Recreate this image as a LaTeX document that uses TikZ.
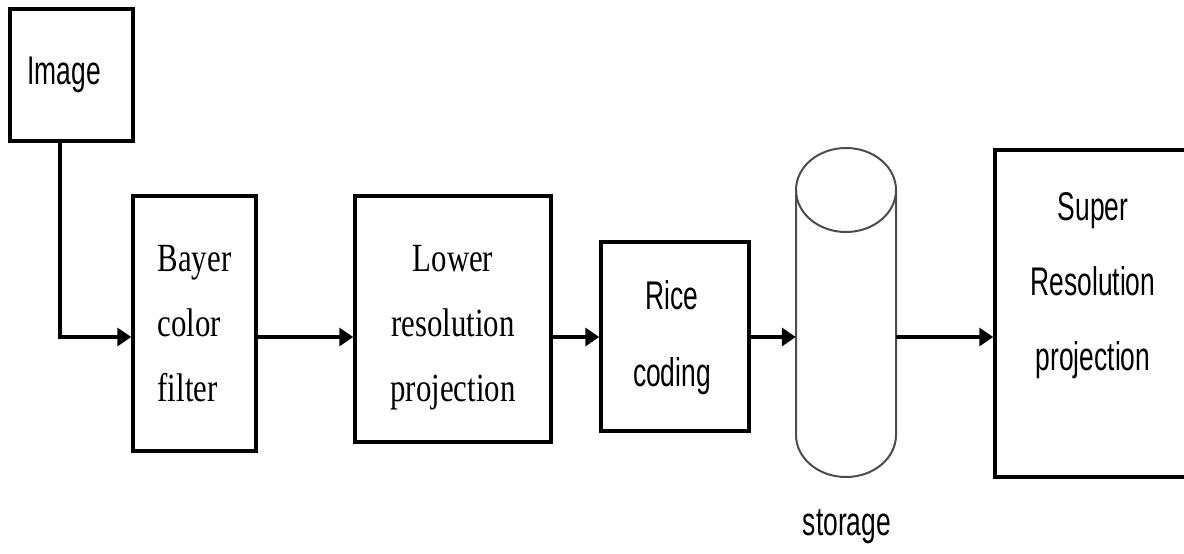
\documentclass[tikz,border=0pt]{standalone}
\usepackage{fontspec}
\setmainfont{Liberation Serif}
\newfontfamily\narrowserif[FakeStretch=0.77]{Liberation Serif}
\newfontfamily\narrowsans[FakeStretch=0.66]{Liberation Sans}
\usetikzlibrary{arrows.meta}
\begin{document}
\begin{tikzpicture}[x=1pt,y=-1pt,
  box/.style={draw=black,line width=3.5pt,inner sep=0pt,fill=white},
  arr/.style={line width=3.5pt,-{Triangle[length=14pt,width=18pt]}},
  serif/.style={font=\narrowserif\fontsize{40}{65}\selectfont},
  sans/.style={font=\narrowsans\fontsize{40}{72}\selectfont},
  cyl/.style={draw=black!70,line width=2pt}]
\clip (0,0) rectangle (1184,554);
\fill[white] (0,0) rectangle (1184,554);
\coordinate (ay) at (0,337);
% boxes
\node[box,minimum width=123pt,minimum height=132pt] (img) at (71.5,75) {};
\node[sans] (imgt) at (64,75) {Image};
\node[box,minimum width=123pt,minimum height=255pt,serif,align=left] (bayer) at (194.5,323.5) {Bayer\\color\\filter};
\node[box,minimum width=196pt,minimum height=246pt] (lower) at (453,319) {};
\node[serif,align=center] (lowert) at (453,328) {Lower\\resolution\\projection};
\node[box,minimum width=148pt,minimum height=189pt] (rice) at (675,336.5) {};
\node[sans,align=center,font=\narrowsans\fontsize{40}{77}\selectfont] (ricet) at (672,338) {Rice\\coding};
% storage cylinder
\node[minimum width=100pt,minimum height=329pt,inner sep=0pt] (st) at (846,312.5) {};
\draw[cyl] (796,190) -- (796,435) arc[start angle=180,end angle=0,x radius=50,y radius=42] -- (896,190);
\draw[cyl] (846,190) ellipse[x radius=50,y radius=42];
\node[sans] (stt) at (847,527) {storage};
\node[box,minimum width=230pt,minimum height=327pt] (super) at (1110,313.5) {};
\node[sans,align=center,font=\narrowsans\fontsize{40}{75}\selectfont] (supert) at (1093,286) {Super\\Resolution\\projection};
% connectors
\draw[arr] ([xshift=-11.5pt]img.south) |- (bayer.west |- ay);
\draw[arr] (bayer.east |- ay) -- (lower.west |- ay);
\draw[arr] (lower.east |- ay) -- (rice.west |- ay);
\draw[arr] (rice.east |- ay) -- (st.west |- ay);
\draw[arr] (st.east |- ay) -- (super.west |- ay);
\end{tikzpicture}
\end{document}
